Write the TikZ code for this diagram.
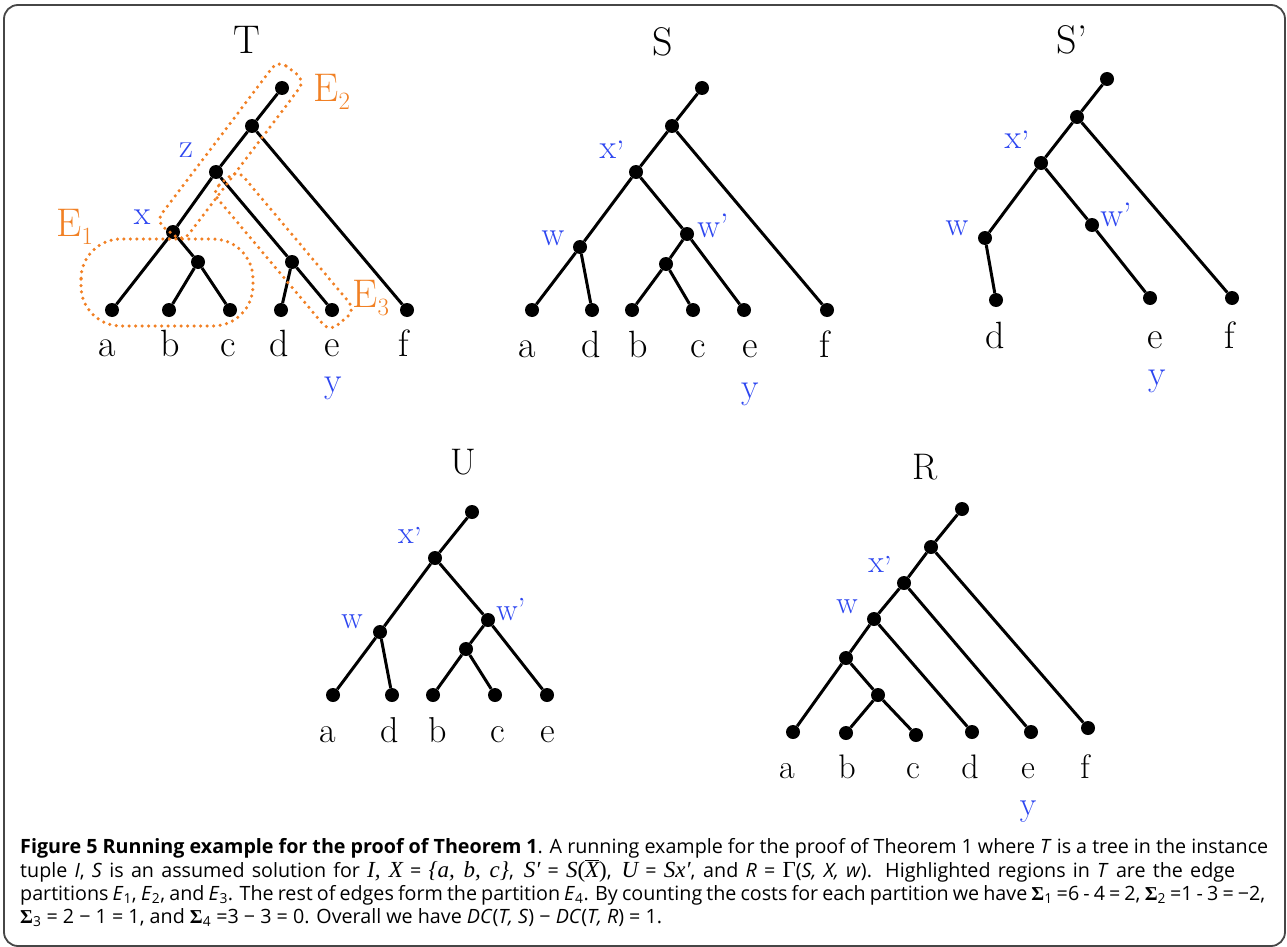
\documentclass[tikz,border=0pt]{standalone}
\usepackage{fontspec}
\newfontfamily\capfont{Open Sans}
\newfontfamily\tms{Liberation Serif}
\usetikzlibrary{calc}
\definecolor{eorange}{RGB}{241,128,36}
\definecolor{lblue}{RGB}{45,70,240}
\definecolor{framegray}{RGB}{70,70,70}
\newcommand\tmsi{\fontsize{23}{23}\selectfont\tms\itshape}
\newcommand\tmsu{\fontsize{23}{23}\selectfont\tms}
\newcommand\xp{x\raisebox{-0.18em}{’}}
\begin{document}
\begin{tikzpicture}[x=1pt,y=-1pt,
  dotn/.style={circle, fill=black, inner sep=0pt, minimum size=14pt},
  treeline/.style={line width=3pt},
  leafA/.style={anchor=base, inner sep=0pt, font=\fontsize{38}{40}\selectfont},
  leafU/.style={anchor=base, inner sep=0pt, font=\fontsize{36}{38}\selectfont},
  leafR/.style={anchor=base, inner sep=0pt, font=\fontsize{34}{36}\selectfont},
  ttl/.style={inner sep=0pt, font=\fontsize{40}{42}\selectfont},
  ttlS/.style={inner sep=0pt, font=\fontsize{37}{39}\selectfont},
  bl/.style={inner sep=0pt, text=lblue, font=\fontsize{34}{36}\selectfont},
  blS/.style={inner sep=0pt, text=lblue, font=\fontsize{32}{34}\selectfont},
  blbase/.style={anchor=base, inner sep=0pt, text=lblue, font=\fontsize{36}{38}\selectfont},
  elab/.style={inner sep=0pt, text=eorange, font=\fontsize{40}{42}\selectfont},
  ebox/.style={draw=eorange, line width=3.5pt, dash pattern=on 0pt off 6.5pt, line cap=round},
  captxt/.style={anchor=base west, inner sep=0pt, font=\capfont\fontsize{19.7}{22}\selectfont}
]
\useasboundingbox (0,0) rectangle (1287,947);
\draw[line width=1.8pt, framegray, rounded corners=14pt] (4,5) rectangle (1285,946);

% ---------------- Tree T ----------------
\node[ttl] (Tt) at (247,40) {T};
\node[dotn] (Tr) at (282,88) {};
\node[dotn] (Tn1) at (252,126) {};
\node[dotn] (Tz) at (216,172) {};
\node[dotn] (Tx) at (173,232) {};
\node[dotn] (Tbc) at (198,262) {};
\node[dotn] (Tde) at (292,262) {};
\node[dotn] (Ta) at (112,310) {};
\node[dotn] (Tb) at (169,310) {};
\node[dotn] (Tc) at (230,310) {};
\node[dotn] (Td) at (281,310) {};
\node[dotn] (Te) at (332,310) {};
\node[dotn] (Tf) at (407,310) {};
\draw[treeline] (Tr) -- (Tn1);
\draw[treeline] (Tn1) -- (Tz);
\draw[treeline] (Tn1) -- (Tf);
\draw[treeline] (Tz) -- (Tx);
\draw[treeline] (Tz) -- (Tde);
\draw[treeline] (Tx) -- (Ta);
\draw[treeline] (Tx) -- (Tbc);
\draw[treeline] (Tbc) -- (Tb);
\draw[treeline] (Tbc) -- (Tc);
\draw[treeline] (Tde) -- (Td);
\draw[treeline] (Tde) -- (Te);
\node[leafA] (Tla) at (107,356) {a};
\node[leafA] (Tlb) at (170,356) {b};
\node[leafA] (Tlc) at (228,356) {c};
\node[leafA] (Tld) at (279,356) {d};
\node[leafA] (Tle) at (332,356) {e};
\node[leafA] (Tlf) at (404,356) {f};
\node[blbase] (Tly) at (333,392) {y};
\node[bl] (Tlz) at (186,150) {z};
\node[bl] (Tlx) at (142,217) {x};
% highlighted partitions
\draw[ebox, rounded corners=40pt] (81,239) rectangle (253,326);
\coordinate (e2t) at ($(Tr)!-20pt!(Tx)$);
\coordinate (e2b) at ($(Tx)!-2pt!(Tr)$);
\draw[ebox, rounded corners=10pt] ($(e2t)!20pt!-90:(Tr)$) -- ($(e2t)!14pt!90:(Tr)$)
   -- ($(e2b)!14pt!-90:(Tr)$) -- ($(e2b)!20pt!90:(Tr)$) -- cycle;
\coordinate (e3t) at ($(Tz)!12pt!(Te)$);
\coordinate (e3b) at ($(Te)!-15pt!(Tz)$);
\draw[ebox, rounded corners=10pt] ($(e3t)!16pt!-90:(Te)$) -- ($(e3t)!18pt!90:(Te)$)
   -- ($(e3b)!18pt!-90:(Tz)$) -- ($(e3b)!16pt!90:(Tz)$) -- cycle;
\node[elab] (E1) at (75,227) {$\mathrm{E}_1$};
\node[elab] (E2) at (332,92) {$\mathrm{E}_2$};
\node[elab] (E3) at (371,298) {$\mathrm{E}_3$};

% ---------------- Tree S ----------------
\node[ttl] (St) at (663,42) {S};
\node[dotn] (Sr) at (702,88) {};
\node[dotn] (Sn1) at (672,126) {};
\node[dotn] (Sx) at (636,172) {};
\node[dotn] (Sw) at (580,247) {};
\node[dotn] (Swp) at (687,234) {};
\node[dotn] (Sbc) at (666,264) {};
\node[dotn] (Sa) at (532,310) {};
\node[dotn] (Sd) at (592,310) {};
\node[dotn] (Sb) at (632,310) {};
\node[dotn] (Sc) at (693,310) {};
\node[dotn] (Se) at (744,310) {};
\node[dotn] (Sf) at (827,310) {};
\draw[treeline] (Sr) -- (Sn1);
\draw[treeline] (Sn1) -- (Sx);
\draw[treeline] (Sn1) -- (Sf);
\draw[treeline] (Sx) -- (Sw);
\draw[treeline] (Sx) -- (Swp);
\draw[treeline] (Sw) -- (Sa);
\draw[treeline] (Sw) -- (Sd);
\draw[treeline] (Swp) -- (Sbc);
\draw[treeline] (Swp) -- (Se);
\draw[treeline] (Sbc) -- (Sb);
\draw[treeline] (Sbc) -- (Sc);
\node[leafA] (Sla) at (527,357) {a};
\node[leafA] (Sld) at (591,357) {d};
\node[leafA] (Slb) at (638,357) {b};
\node[leafA] (Slc) at (698,357) {c};
\node[leafA] (Sle) at (750,357) {e};
\node[leafA] (Slf) at (825,357) {f};
\node[blbase] (Sly) at (750,398) {y};
\node[bl] (Slx) at (612,153) {\xp};
\node[bl] (Slw) at (553,238) {w};
\node[bl] (Slwp) at (713,226) {w’};

% ---------------- Tree S' ----------------
\node[ttl] (Pt) at (1072,40) {S’};
\node[dotn] (Pr) at (1107,79) {};
\node[dotn] (Pn1) at (1077,117) {};
\node[dotn] (Px) at (1041,163) {};
\node[dotn] (Pw) at (985,238) {};
\node[dotn] (Pwp) at (1092,225) {};
\node[dotn] (Pd) at (996,300) {};
\node[dotn] (Pe) at (1150,298) {};
\node[dotn] (Pf) at (1232,298) {};
\draw[treeline] (Pr) -- (Pn1);
\draw[treeline] (Pn1) -- (Px);
\draw[treeline] (Pn1) -- (Pf);
\draw[treeline] (Px) -- (Pw);
\draw[treeline] (Px) -- (Pwp);
\draw[treeline] (Pw) -- (Pd);
\draw[treeline] (Pwp) -- (Pe);
\node[leafA] (Pld) at (995,348) {d};
\node[leafA] (Ple) at (1155,348) {e};
\node[leafA] (Plf) at (1230,348) {f};
\node[blbase] (Ply) at (1157,385) {y};
\node[bl] (Plx) at (1017,143) {\xp};
\node[bl] (Plw) at (957,228) {w};
\node[bl] (Plwp) at (1116,215) {w’};

% ---------------- Tree U ----------------
\node[ttlS] (Ut) at (463,462) {U};
\node[dotn] (Ur) at (472,512) {};
\node[dotn] (Ux) at (435,558) {};
\node[dotn] (Uw) at (380,632) {};
\node[dotn] (Uwp) at (488,620) {};
\node[dotn] (Ubc) at (466,649) {};
\node[dotn] (Ua) at (333,695) {};
\node[dotn] (Ud) at (392,695) {};
\node[dotn] (Ub) at (433,695) {};
\node[dotn] (Uc) at (495,695) {};
\node[dotn] (Ue) at (547,695) {};
\draw[treeline] (Ur) -- (Ux);
\draw[treeline] (Ux) -- (Uw);
\draw[treeline] (Ux) -- (Uwp);
\draw[treeline] (Uw) -- (Ua);
\draw[treeline] (Uw) -- (Ud);
\draw[treeline] (Uwp) -- (Ubc);
\draw[treeline] (Uwp) -- (Ue);
\draw[treeline] (Ubc) -- (Ub);
\draw[treeline] (Ubc) -- (Uc);
\node[leafU] (Ula) at (328,742) {a};
\node[leafU] (Uld) at (390,742) {d};
\node[leafU] (Ulb) at (438,742) {b};
\node[leafU] (Ulc) at (498,742) {c};
\node[leafU] (Ule) at (548,742) {e};
\node[blS] (Ulx) at (410,538) {\xp};
\node[blS] (Ulw) at (352,622) {w};
\node[blS] (Ulwp) at (511,610) {w’};

% ---------------- Tree R ----------------
\node[ttlS] (Rt) at (925,467) {R};
\node[dotn] (Rr) at (962,509) {};
\node[dotn] (Rn1) at (931,547) {};
\node[dotn] (Rx) at (904,583) {};
\node[dotn] (Rw) at (874,619) {};
\node[dotn] (Rn4) at (846,658) {};
\node[dotn] (Rbc) at (878,695) {};
\node[dotn] (Ra) at (793,732) {};
\node[dotn] (Rb) at (846,733) {};
\node[dotn] (Rc) at (916,735) {};
\node[dotn] (Rd) at (972,732) {};
\node[dotn] (Re) at (1031,732) {};
\node[dotn] (Rf) at (1088,728) {};
\draw[treeline] (Rr) -- (Rn1);
\draw[treeline] (Rn1) -- (Rx);
\draw[treeline] (Rn1) -- (Rf);
\draw[treeline] (Rx) -- (Rw);
\draw[treeline] (Rx) -- (Re);
\draw[treeline] (Rw) -- (Rn4);
\draw[treeline] (Rw) -- (Rd);
\draw[treeline] (Rn4) -- (Ra);
\draw[treeline] (Rn4) -- (Rbc);
\draw[treeline] (Rbc) -- (Rb);
\draw[treeline] (Rbc) -- (Rc);
\node[leafR] (Rla) at (787,778) {a};
\node[leafR] (Rlb) at (847,778) {b};
\node[leafR] (Rlc) at (913,778) {c};
\node[leafR] (Rld) at (970,778) {d};
\node[leafR] (Rle) at (1028,778) {e};
\node[leafR] (Rlf) at (1085,778) {f};
\node[blbase, font=\fontsize{34}{36}\selectfont] (Rly) at (1028,815) {y};
\node[blS] (Rlx) at (880,567) {\xp};
\node[blS] (Rlw) at (847,607) {w};

% ---------------- Caption ----------------
\node[captxt] (c1) at (20,853) {\makebox[1248pt][s]{\textbf{Figure 5 Running example for the proof of Theorem 1}. A running example for the proof of Theorem 1 where \textit{T} is a tree in the instance}};
\node[captxt] (c2) at (20,877) {\makebox[1215pt][s]{tuple \textit{I}, \textit{S} is an assumed solution for {\tmsi I, X} = {\tmsi \{a, b, c\}},\enspace {\tmsi S′} = {\tmsi S}{\tmsu(}\ensuremath{\overline{\hbox{\tmsi X}}}{\tmsu)},\enspace {\tmsi U} = {\tmsi Sx′}, and \textit{R} = {\tmsu Γ}(\textit{S, X, w}). Highlighted regions in \textit{T} are the edge}};
\node[captxt] (c3) at (20,900) {\makebox[1245pt][s]{partitions \textit{E}\textsubscript{1}, \textit{E}\textsubscript{2}, and \textit{E}\textsubscript{3}. The rest of edges form the partition \textit{E}\textsubscript{4}. By counting the costs for each partition we have {\tms\bfseries Σ}\textsubscript{1} =6 - 4 = 2, {\tms\bfseries Σ}\textsubscript{2} =1 - 3 = −2,}};
\node[captxt] (c4) at (20,923) {{\tms\bfseries Σ}\textsubscript{3} = 2 − 1 = 1, and {\tms\bfseries Σ}\textsubscript{4} =3 − 3 = 0. Overall we have \textit{DC}(\textit{T, S}) − \textit{DC}(\textit{T, R}) = 1.};
\end{tikzpicture}
\end{document}
